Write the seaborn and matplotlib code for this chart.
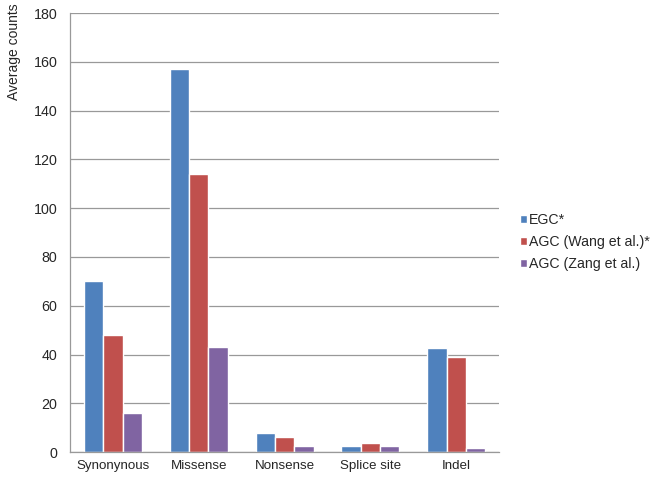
import pandas as pd
import matplotlib.pyplot as plt
import seaborn as sns

categories = ['Synonynous', 'Missense', 'Nonsense', 'Splice site', 'Indel']
series_names = ['EGC*', 'AGC (Wang et al.)*', 'AGC (Zang et al.)']
egc = [70, 157, 8, 2.3, 42.5]
agc_wang = [48, 114, 6, 3.9, 39]
agc_zang = [16, 43, 2.3, 2.3, 1.7]
colors = ['#4F81BD', '#C0504D', '#8064A2']

rows = []
for name, vals in zip(series_names, [egc, agc_wang, agc_zang]):
    for cat, v in zip(categories, vals):
        rows.append({'Category': cat, 'Series': name, 'Value': v})
df = pd.DataFrame(rows)

sns.set_style('white')
plt.rcParams['font.family'] = ['Liberation Sans', 'DejaVu Sans']

fig = plt.figure(figsize=(6.55, 4.83), dpi=100)
ax = fig.add_axes([0.107, 0.064, 0.655, 0.909])

sns.barplot(data=df, x='Category', y='Value', hue='Series', palette=colors,
            width=0.675, saturation=1, ax=ax, legend=True)

ax.set_ylim(0, 180)
ax.set_yticks(range(0, 181, 20))
ax.set_xlim(-0.5, 4.5)
ax.yaxis.grid(True, color='#999999', linewidth=0.9)
ax.set_axisbelow(True)
for s in ['top', 'right']:
    ax.spines[s].set_visible(False)
for s in ['left', 'bottom']:
    ax.spines[s].set_color('#999999')
    ax.spines[s].set_linewidth(0.9)

ax.set_xticks([-0.5, 0.5, 1.5, 2.5, 3.5, 4.5], minor=True)
ax.tick_params(axis='x', which='major', length=0, labelsize=9.6, pad=6)
ax.tick_params(axis='x', which='minor', length=5, color='#999999', direction='out')
ax.tick_params(axis='y', length=5, color='#999999', direction='out', labelsize=10.3, pad=4)
ax.set_xlabel('')
ax.set_ylabel('')
fig.text(0.022, 0.993, 'Average counts', rotation=90, ha='center', va='top', fontsize=10)

handles, labels = ax.get_legend_handles_labels()
ax.legend(handles, labels, loc='center left', bbox_to_anchor=(1.032, 0.478), frameon=False,
          fontsize=10.2, handlelength=0.5, handleheight=0.5, handletextpad=0.15,
          labelspacing=0.55, borderpad=0)

fig.savefig('out.png', dpi=100)
